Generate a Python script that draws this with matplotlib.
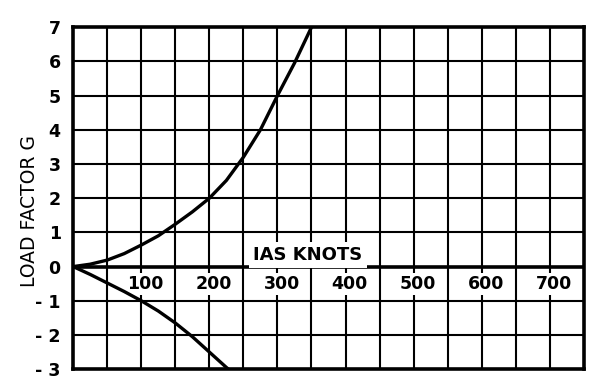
import matplotlib
matplotlib.use("Agg")
import matplotlib.pyplot as plt
import numpy as np

# load factor curves (IAS knots vs G)
ias_pos = [0, 25, 50, 75, 100, 125, 150, 175, 200, 225, 250, 275, 300, 325, 350]
g_pos = [0, 0.07, 0.19, 0.38, 0.63, 0.9, 1.24, 1.6, 2.0, 2.52, 3.2, 4.0, 5.0, 5.95, 7.0]
ias_neg = [0, 25, 50, 75, 100, 125, 150, 175, 200, 225, 228]
g_neg = [0, -0.23, -0.48, -0.73, -1.0, -1.3, -1.65, -2.05, -2.5, -2.95, -3.0]

x_labels = [100, 200, 300, 400, 500, 600, 700]
y_ticks = [7, 6, 5, 4, 3, 2, 1, 0, -1, -2, -3]
y_labels = ["7", "6", "5", "4", "3", "2", "1", "0", "- 1", "- 2", "- 3"]

fig = plt.figure(figsize=(6, 3.89), dpi=100)
ax = fig.add_axes([0.122, 0.051, 0.851, 0.879])
ax.set_xlim(0, 750)
ax.set_ylim(-3, 7)

# grid every 50 knots / 1 G
for xv in np.arange(50, 750, 50):
    ax.axvline(xv, color="black", lw=1.5, zorder=1)
for yv in range(-2, 7):
    ax.axhline(yv, color="black", lw=1.5 if yv != 0 else 2.6, zorder=1)
for s in ax.spines.values():
    s.set_linewidth(2.6)

ax.plot(ias_pos, g_pos, color="black", lw=2.4, zorder=5, solid_capstyle="butt")
ax.plot(ias_neg, g_neg, color="black", lw=2.4, zorder=5, solid_capstyle="butt")

ax.set_xticks([])
ax.set_yticks(y_ticks)
ax.set_yticklabels(y_labels, fontsize=12.5, fontweight="bold")
ax.tick_params(axis="y", length=0, pad=9)

for v in x_labels:
    ax.text(v + 6, -0.5, str(v), ha="center", va="center", fontsize=12.5, zorder=4,
            fontweight="bold", bbox=dict(facecolor="white", edgecolor="none", pad=1.5))
ax.text(345, 0.33, "IAS KNOTS", ha="center", va="center", fontsize=13, zorder=4,
        fontweight="bold", bbox=dict(facecolor="white", edgecolor="none", pad=3))

fig.text(0.05, 0.457, "LOAD FACTOR G", rotation=90, ha="center", va="center",
         fontsize=13.5)

fig.savefig("out.png", dpi=100)
